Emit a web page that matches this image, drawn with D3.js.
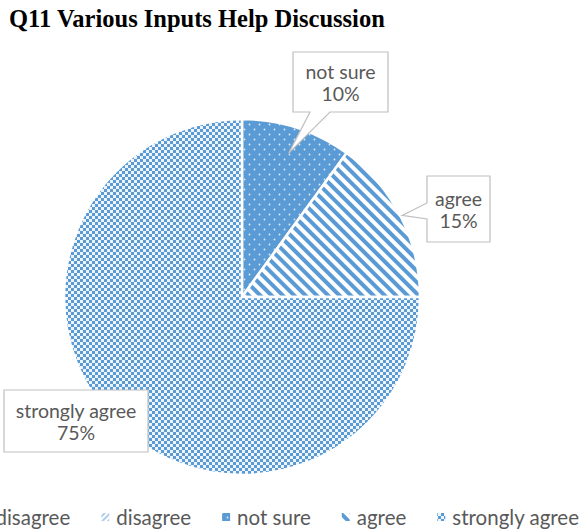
<!DOCTYPE html>
<html>
<head>
<meta charset="utf-8">
<script src="https://cdn.jsdelivr.net/npm/d3@7"></script>
<style>
  body { margin: 0; background: #fff; }
  svg { display: block; }
</style>
</head>
<body>
<svg id="chart" width="582" height="532"></svg>
<script>
// Survey answers for Q11
const categories = ["strongly disagree", "disagree", "not sure", "agree", "strongly agree"];
const values = [0, 0, 10, 15, 75];
const chartTitle = "Q11 Various Inputs Help Discussion";

const W = 582, H = 532;
const cx = 242, cy = 297, R = 178;
const blue = "#5B9BD5";
const textGray = "#595959";
const labelFont = "Lato, 'Open Sans', sans-serif";

const svg = d3.select("#chart");
const defs = svg.append("defs");

// ---- fill patterns ----
// dotted (not sure)
const pDots = defs.append("pattern").attr("id", "p-dots")
  .attr("patternUnits", "userSpaceOnUse").attr("width", 10).attr("height", 10);
pDots.append("rect").attr("width", 10).attr("height", 10).attr("fill", blue);
pDots.append("circle").attr("cx", 2.5).attr("cy", 2.5).attr("r", 0.9).attr("fill", "#fff").attr("opacity", 0.8);
pDots.append("circle").attr("cx", 7.5).attr("cy", 7.5).attr("r", 0.9).attr("fill", "#fff").attr("opacity", 0.8);

// wide downward diagonal (agree)
const pStripe = defs.append("pattern").attr("id", "p-stripe")
  .attr("patternUnits", "userSpaceOnUse").attr("width", 8).attr("height", 8)
  .attr("patternTransform", "rotate(45)");
pStripe.append("rect").attr("width", 8).attr("height", 8).attr("fill", "#fff");
pStripe.append("rect").attr("width", 8).attr("height", 4).attr("fill", blue);

// small checkerboard (strongly agree)
const pCheck = defs.append("pattern").attr("id", "p-check")
  .attr("patternUnits", "userSpaceOnUse").attr("width", 6).attr("height", 6);
pCheck.append("rect").attr("width", 6).attr("height", 6).attr("fill", "#EEF4FB");
pCheck.append("rect").attr("width", 3).attr("height", 3).attr("fill", blue);
pCheck.append("rect").attr("x", 3).attr("y", 3).attr("width", 3).attr("height", 3).attr("fill", blue);

// wide upward diagonal, light (disagree)
const pUp = defs.append("pattern").attr("id", "p-up")
  .attr("patternUnits", "userSpaceOnUse").attr("width", 4).attr("height", 4)
  .attr("patternTransform", "rotate(-45)");
pUp.append("rect").attr("width", 4).attr("height", 4).attr("fill", "#fff");
pUp.append("rect").attr("width", 4).attr("height", 1.6).attr("fill", "#9DC3E6");

// dark grid (strongly disagree)
const pGrid = defs.append("pattern").attr("id", "p-grid")
  .attr("patternUnits", "userSpaceOnUse").attr("width", 4).attr("height", 4);
pGrid.append("rect").attr("width", 4).attr("height", 4).attr("fill", "#2E75B6");
pGrid.append("rect").attr("width", 2).attr("height", 2).attr("fill", "#fff");

const fills = d3.scaleOrdinal()
  .domain(categories)
  .range(["url(#p-grid)", "url(#p-up)", "url(#p-dots)", "url(#p-stripe)", "url(#p-check)"]);

// ---- title ----
svg.append("text")
  .attr("x", 9).attr("y", 27)
  .attr("font-family", "'Liberation Serif', 'Times New Roman', serif")
  .attr("font-weight", "bold")
  .attr("font-size", 24.5)
  .attr("fill", "#000")
  .text(chartTitle);

// ---- pie ----
const data = categories.map((c, i) => ({ category: c, value: values[i] }));
const total = d3.sum(values);
const pie = d3.pie().sort(null).value(d => d.value).startAngle(0).endAngle(2 * Math.PI);
const arcs = pie(data);
const arc = d3.arc().innerRadius(0).outerRadius(R);

const g = svg.append("g").attr("transform", `translate(${cx},${cy})`);
g.selectAll("path.slice")
  .data(arcs.filter(a => a.data.value > 0))
  .join("path")
  .attr("class", "slice")
  .attr("d", arc)
  .attr("fill", d => fills(d.data.category))
  .attr("stroke", "#fff")
  .attr("stroke-width", 2.5)
  .attr("stroke-linejoin", "round");

// ---- data callouts ----
// box geometry for each labelled slice, plus where the pointer leaves the box
const calloutLayout = {
  "not sure":       { x: 293, y: 52,  w: 95,  h: 60, side: "bottom", b0: 17, b1: 37, tipR: 0.85 },
  "agree":          { x: 427, y: 176, w: 63,  h: 66, side: "left",   b0: 27, b1: 43, tipR: 1.01 },
  "strongly agree": { x: 4,   y: 390, w: 144, h: 62, side: null }
};

function calloutPath(b, tip) {
  const x0 = b.x, y0 = b.y, x1 = b.x + b.w, y1 = b.y + b.h;
  const p = d3.path();
  p.moveTo(x0, y0);
  p.lineTo(x1, y0);
  p.lineTo(x1, y1);
  if (b.side === "bottom") {
    p.lineTo(x0 + b.b1, y1);
    p.lineTo(tip[0], tip[1]);
    p.lineTo(x0 + b.b0, y1);
  }
  p.lineTo(x0, y1);
  if (b.side === "left") {
    p.lineTo(x0, y0 + b.b1);
    p.lineTo(tip[0], tip[1]);
    p.lineTo(x0, y0 + b.b0);
  }
  p.closePath();
  return p.toString();
}

const pct = d3.format(".0%");
arcs.filter(a => a.data.value > 0).forEach(a => {
  const b = calloutLayout[a.data.category];
  let tip = null;
  if (b.side) {
    const r = R * b.tipR;
    const c = d3.arc().innerRadius(r).outerRadius(r).centroid(a);
    tip = [cx + c[0], cy + c[1]];
  }
  const cg = svg.append("g").attr("class", "callout");
  cg.append("path")
    .attr("d", calloutPath(b, tip))
    .attr("fill", "#fff")
    .attr("stroke", "#BFBFBF")
    .attr("stroke-width", 1.2);
  const tx = b.x + b.w / 2;
  const midY = b.y + b.h / 2;
  cg.append("text")
    .attr("x", tx).attr("y", midY - 3)
    .attr("text-anchor", "middle")
    .attr("font-family", labelFont).attr("font-size", 19.5)
    .attr("fill", textGray)
    .text(a.data.category);
  cg.append("text")
    .attr("x", tx).attr("y", midY + 19)
    .attr("text-anchor", "middle")
    .attr("font-family", labelFont).attr("font-size", 19.5)
    .attr("fill", textGray)
    .text(pct(a.data.value / total));
});

// ---- legend (laid out from the right edge; the first entry runs past the left edge) ----
const legendY = 525;
const legend = svg.append("g").attr("class", "legend");
const items = legend.selectAll("g.item")
  .data(categories)
  .join("g").attr("class", "item");
items.append("text")
  .attr("y", legendY)
  .attr("font-family", labelFont).attr("font-size", 20.5)
  .attr("fill", textGray)
  .text(d => d);
items.append("rect")
  .attr("width", 8).attr("height", 8)
  .attr("y", legendY - 12)
  .attr("fill", d => fills(d));

let right = 579;
const nodes = items.nodes();
for (let i = nodes.length - 1; i >= 0; i--) {
  const it = d3.select(nodes[i]);
  const tw = it.select("text").node().getComputedTextLength();
  const textX = right - tw;
  it.select("text").attr("x", textX);
  it.select("rect").attr("x", textX - 15);
  right = textX - 15 - 31;
}
</script>
</body>
</html>
